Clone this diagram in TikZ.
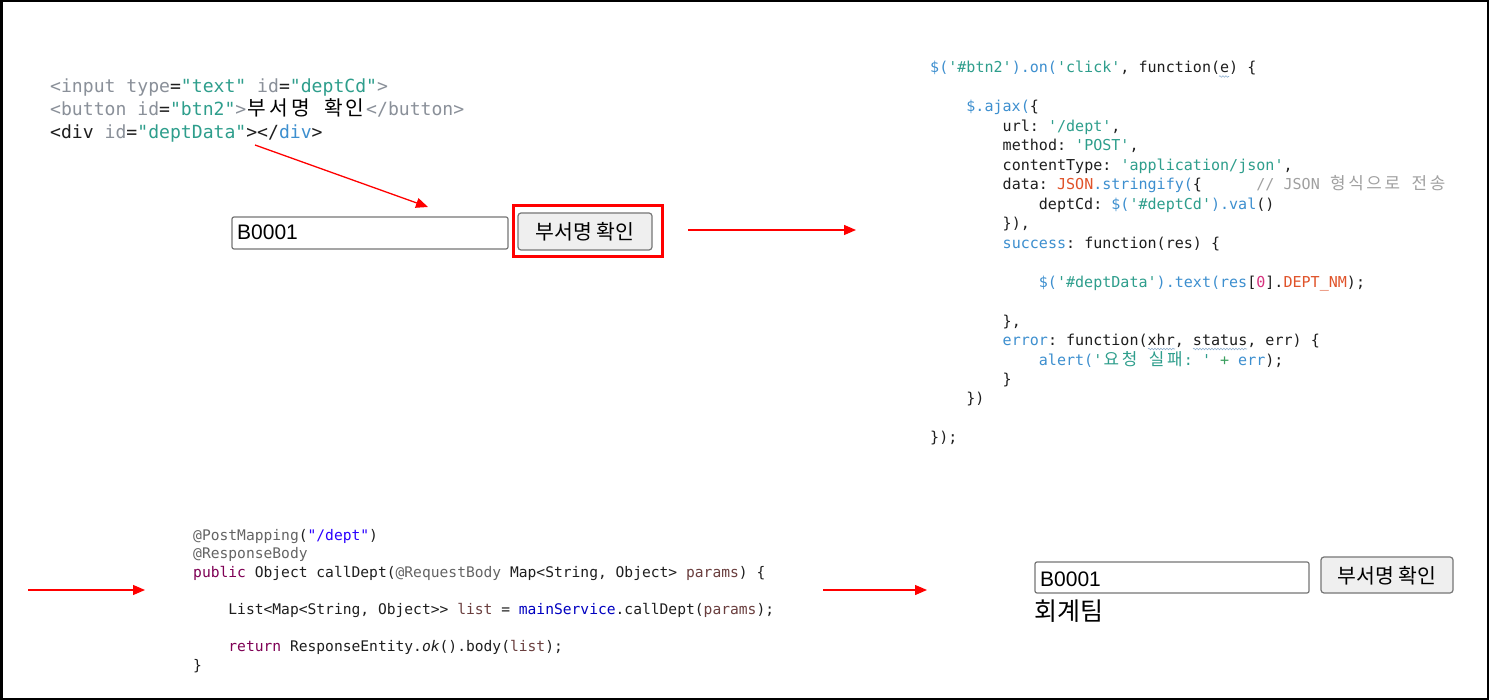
\documentclass[tikz,border=0pt]{standalone}
\usepackage{fontspec}
\setmainfont{Liberation Sans}
\setmonofont{DejaVu Sans Mono}
\newfontfamily\krfont{Noto Sans CJK KR}
\newfontfamily\krcode[Scale=1.12]{Noto Sans CJK KR}
\usetikzlibrary{arrows.meta,decorations.pathmorphing}
\definecolor{tagGray}{HTML}{8A9099}
\definecolor{strTeal}{HTML}{2E9E8C}
\definecolor{jsBlue}{HTML}{3D8FCF}
\definecolor{jsOrange}{HTML}{E0532A}
\definecolor{jsMag}{HTML}{D6337F}
\definecolor{cmtGray}{HTML}{A0A0A0}
\definecolor{plusGrn}{HTML}{3CA060}
\definecolor{codeDark}{HTML}{1E1E1E}
\definecolor{jAnnC}{HTML}{646464}
\definecolor{jKwC}{HTML}{7F0055}
\definecolor{jStrC}{HTML}{2A00FF}
\definecolor{jVarC}{HTML}{6A3E3E}
\definecolor{jFldC}{HTML}{0000C0}
\definecolor{boxBorder}{HTML}{767676}
\definecolor{btnFill}{HTML}{EFEFEF}
\definecolor{squig}{HTML}{8FB0D0}
\newcommand\cTag[1]{\textcolor{tagGray}{#1}}
\newcommand\cStr[1]{\textcolor{strTeal}{#1}}
\newcommand\cBlu[1]{\textcolor{jsBlue}{#1}}
\newcommand\cOra[1]{\textcolor{jsOrange}{#1}}
\newcommand\cMag[1]{\textcolor{jsMag}{#1}}
\newcommand\cCmt[1]{\textcolor{cmtGray}{#1}}
\newcommand\cGrn[1]{\textcolor{plusGrn}{#1}}
\newcommand\jAnn[1]{\textcolor{jAnnC}{#1}}
\newcommand\jKw[1]{\textcolor{jKwC}{#1}}
\newcommand\jStr[1]{\textcolor{jStrC}{#1}}
\newcommand\jVar[1]{\textcolor{jVarC}{#1}}
\newcommand\jFld[1]{\textcolor{jFldC}{#1}}
\newlength\kwid
\newcommand\KS[1]{\settowidth{\kwid}{0}\makebox[2\kwid]{\krcode #1}}
\tikzset{
  codeA/.style={anchor=base west,inner sep=0pt,text=codeDark,font=\ttfamily\fontsize{18.1}{22}\selectfont},
  codeB/.style={anchor=base west,inner sep=0pt,text=codeDark,font=\ttfamily\fontsize{15.05}{19}\selectfont},
  codeC/.style={anchor=base west,inner sep=0pt,text=codeDark,font=\ttfamily\fontsize{14.62}{18}\selectfont},
  inbox/.style={draw=boxBorder,line width=1.2pt,rounded corners=2pt,fill=white},
  btnbox/.style={draw=boxBorder,line width=1.2pt,rounded corners=3pt,fill=btnFill},
  intext/.style={anchor=base west,inner sep=0pt,text=black,font=\fontsize{21}{24}\selectfont},
  btntext/.style={inner sep=0pt,text=black,font=\krfont\fontsize{20.5}{24}\selectfont},
  redarrow/.style={draw=red,line width=1.3pt,-{Triangle[length=12pt,width=10pt]}},
  squiggle/.style={draw=squig,line width=0.6pt,decorate,decoration={snake,segment length=3pt,amplitude=0.8pt}}
}
\begin{document}
\begin{tikzpicture}[x=1pt,y=-1pt]
\useasboundingbox (0,0) rectangle (1489,700);
\fill[white] (0,0) rectangle (1489,700);
\draw[black,line width=2.5pt] (1.25,1.25) rectangle (1487.75,698.75);

% top-left HTML
\node[codeA] (tl1) at (50,93) {\cTag{<input type}=\cStr{"text"} \cTag{id}=\cStr{"deptCd"}\cTag{>}};
\node[codeA] (tl2) at (50,116) {\cTag{<button id}=\cStr{"btn2"}\cTag{>}\textcolor{black}{\KS{부}\KS{서}\KS{명}\ \KS{확}\KS{인}}\cTag{</button>}};
\node[codeA] (tl3) at (50,139) {<div \cTag{id}=\cStr{"deptData"}></\cBlu{div}>};

% top widgets
\draw[inbox] (232,217) rectangle (508,249);
\node[intext] (in1) at (237,240) {B0001};
\draw[btnbox] (518,213) rectangle (652,250);
\node[btntext] (bt1) at (585,232) {부서명 확인};
\node[draw=red,line width=3pt,inner sep=0pt,minimum width=149pt,minimum height=51pt] (rb) at (587.5,231.5) {};

% top-right JS
\node[codeB] (js0) at (930,73) {\cBlu{\$(}\cStr{'\#btn2'}\cBlu{).on(}\cStr{'click'}, function(e) \{};
\node[codeB] (js2) at (966.2,111.9) {\cBlu{\$.ajax(}\{};
\node[codeB] (js3) at (1002.5,131.4) {url: \cStr{'/dept'},};
\node[codeB] (js4) at (1002.5,150.9) {method: \cStr{'POST'},};
\node[codeB] (js5) at (1002.5,170.3) {contentType: \cStr{'application/json'},};
\node[codeB] (js6) at (1002.5,189.8) {data: \cOra{JSON}\cBlu{.stringify(}\{\ \ \ \ \ \ \cCmt{// JSON \KS{형}\KS{식}\KS{으}\KS{로}\ \KS{전}\KS{송}}};
\node[codeB] (js7) at (1038.7,209.3) {deptCd: \cBlu{\$(}\cStr{'\#deptCd'}\cBlu{).val}()};
\node[codeB] (js8) at (1002.5,228.8) {\}),};
\node[codeB] (js9) at (1002.5,248.2) {\cBlu{success}: function(res) \{};
\node[codeB] (js11) at (1038.7,287.2) {\cBlu{\$(}\cStr{'\#deptData'}\cBlu{).text(res}[\cMag{0}].\cOra{DEPT\_NM});};
\node[codeB] (js13) at (1002.5,326.1) {\},};
\node[codeB] (js14) at (1002.5,345.6) {\cBlu{error}: function(xhr, status, err) \{};
\node[codeB] (js15) at (1038.7,365.1) {\cBlu{alert(}\cStr{'\KS{요}\KS{청}\ \KS{실}\KS{패}: '} \cGrn{+} \cBlu{err});};
\node[codeB] (js16) at (1002.5,384.5) {\}};
\node[codeB] (js17) at (966.2,404.0) {\})};
\node[codeB] (js19) at (930,442.9) {\});};
\draw[squiggle] (1219,76.5) -- (1229,76.5);
\draw[squiggle] (1148,349) -- (1175,349);
\draw[squiggle] (1193,349) -- (1247,349);

% bottom Java
\node[codeC] (jv0) at (193,540) {\jAnn{@PostMapping}(\jStr{"/dept"})};
\node[codeC] (jv1) at (193,558.6) {\jAnn{@ResponseBody}};
\node[codeC] (jv2) at (193,577.1) {\jKw{public} Object callDept(\jAnn{@RequestBody} Map<String, Object> \jVar{params}) \{};
\node[codeC] (jv4) at (228.2,614.3) {List<Map<String, Object>> \jVar{list} = \jFld{mainService}.callDept(\jVar{params});};
\node[codeC] (jv6) at (228.2,651.4) {\jKw{return} ResponseEntity.\textit{ok}().body(\jVar{list});};
\node[codeC] (jv7) at (193,670) {\}};

% bottom widgets
\draw[inbox] (1035,562) rectangle (1309,593);
\node[intext] (in2) at (1040,586) {B0001};
\draw[btnbox] (1321,557) rectangle (1453,593);
\node[btntext] (bt2) at (1387,576) {부서명 확인};
\node[anchor=base west,inner sep=0pt,text=black,font=\krfont\fontsize{25}{28}\selectfont] (res) at (1034,620) {회계팀};

% arrows
\coordinate (a1s) at (255,145);
\coordinate (a1e) at (428,207);
\coordinate (a2s) at (688,230);
\coordinate (a2e) at (856,230);
\coordinate (a3s) at (28,590);
\coordinate (a3e) at (145,590);
\coordinate (a4s) at (823,590);
\coordinate (a4e) at (927,590);
\draw[redarrow] (a1s) -- (a1e);
\draw[redarrow] (a2s) -- (a2e);
\draw[redarrow] (a3s) -- (a3e);
\draw[redarrow] (a4s) -- (a4e);
\end{tikzpicture}
\end{document}
